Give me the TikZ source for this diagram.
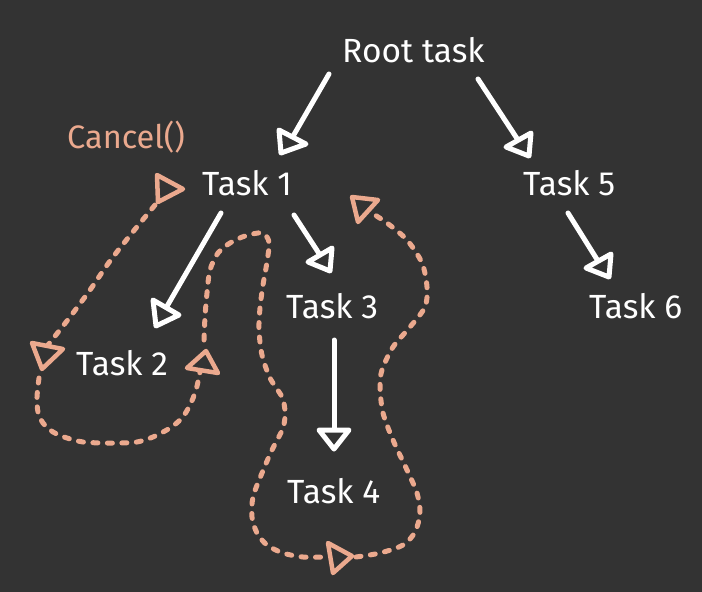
\documentclass[tikz,border=0pt]{standalone}
\usepackage{fontspec}
\setmainfont{Fira Sans}
\definecolor{bg}{HTML}{333333}
\definecolor{salm}{HTML}{EBA98E}
\begin{document}
\begin{tikzpicture}[x=1pt,y=-1pt,
  lbl/.style={text=white, font=\fontsize{33.5}{38}\selectfont, inner sep=0pt, anchor=base west},
  wire/.style={draw=white, line width=5pt, line cap=round, line join=round},
  wirehead/.style={draw=white, fill=bg, line width=5pt, line join=round},
  trail/.style={draw=salm, line width=5pt, line cap=round, dash pattern=on 5pt off 9.5pt},
  head/.style={draw=salm, fill=bg, line width=4.5pt, line join=round}]
\fill[bg] (0,0) rectangle (702,592);
\useasboundingbox (0,0) rectangle (702,592);

% labels
\node[lbl] (root) at (342,62) {Root task};
\node[lbl] (t1) at (202,195) {Task 1};
\node[lbl] (t5) at (523,195) {Task 5};
\node[lbl] (t3) at (286,318) {Task 3};
\node[lbl] (t6) at (589,318) {Task 6};
\node[lbl] (t2) at (76,375) {Task 2};
\node[lbl] (t4) at (287,503) {Task 4};
\node[lbl, text=salm, font=\fontsize{32.5}{38}\selectfont] (cancel) at (67,148) {Cancel()};

% connector end points (line start, base of head)
\coordinate (rootA) at (329,74);  \coordinate (t1in) at (292,138);
\coordinate (rootB) at (478,79);  \coordinate (t5in) at (518,140);
\coordinate (t1A) at (221,213);   \coordinate (t2in) at (166,308);
\coordinate (t1B) at (294,215);   \coordinate (t3in) at (320,255);
\coordinate (t5A) at (568,213);   \coordinate (t6in) at (598,261);
\coordinate (t3A) at (334,340);   \coordinate (t4in) at (334,430);

\draw[wire] (rootA) -- (t1in);
\draw[wire] (rootB) -- (t5in);
\draw[wire] (t1A) -- (t2in);
\draw[wire] (t1B) -- (t3in);
\draw[wire] (t5A) -- (t6in);
\draw[wire] (t3A) -- (t4in);

% white arrowheads
\draw[wirehead] (279,130) -- (306,144) -- (281,153) -- cycle;
\draw[wirehead] (506,147) -- (531,133) -- (529,156) -- cycle;
\draw[wirehead] (308,262) -- (332,248) -- (330,271) -- cycle;
\draw[wirehead] (586,268) -- (611,254) -- (609,277) -- cycle;
\draw[wirehead] (153,300) -- (179,315) -- (156,326) -- cycle;
\draw[wirehead] (319,430) -- (349,430) -- (334,449) -- cycle;

% cancellation trail
\draw[trail] plot[smooth] coordinates {(155,205) (132,233) (110,261) (90,290) (70,317) (48,345)};
\draw[trail] plot[smooth] coordinates {(39,378) (37,397) (38,412) (43,423) (53,432) (67,438) (83,442) (103,443) (120,443) (137,442) (153,437) (170,428) (182,418) (190,405) (196,390) (200,372)};
\draw[trail] plot[smooth] coordinates {(204,340) (205,317) (207,293) (210,270) (218,253) (230,243) (245,236) (262,233) (269,242) (267,262) (263,285) (260,308) (259,330) (262,355) (270,378) (282,397) (285,412) (283,428) (272,450) (262,473) (253,497) (252,517) (257,533) (267,545) (283,553) (303,557) (328,557)};
\draw[trail] plot[smooth] coordinates {(356,557) (380,553) (403,545) (415,532) (420,513) (417,493) (407,470) (393,440) (383,413) (380,387) (382,370) (393,347) (410,327) (425,307) (427,287) (422,263) (407,240) (387,223) (370,212)};

% trail arrowheads
\draw[head] (157,175) -- (183,189) -- (158,202) -- cycle;
\draw[head] (32,343) -- (63,349) -- (42,369) -- cycle;
\draw[head] (187,368) -- (206,351) -- (218,373) -- cycle;
\draw[head] (328,543) -- (352,556) -- (333,573) -- cycle;
\draw[head] (352,197) -- (378,200) -- (358,222) -- cycle;
\end{tikzpicture}
\end{document}
